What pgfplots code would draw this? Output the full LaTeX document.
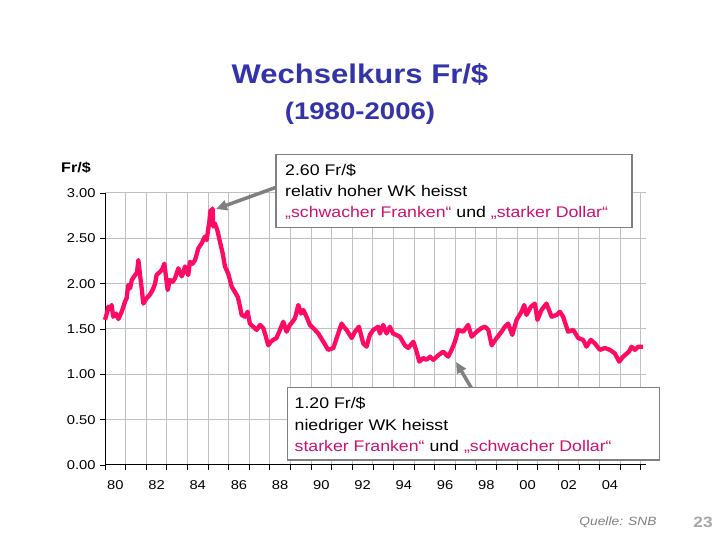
\documentclass[border=0pt]{standalone}
\usepackage{fontspec}
\setmainfont{Liberation Sans}[FakeStretch=1.15]
\usepackage{pgfplots}
\pgfplotsset{compat=1.18}
\usetikzlibrary{arrows.meta}
\definecolor{linecol}{HTML}{FF0A64}
\definecolor{txtmag}{HTML}{CC1170}
\definecolor{titleblue}{HTML}{3434AA}
\definecolor{gridgray}{HTML}{C0C0C0}
\definecolor{boxgray}{HTML}{808080}
\newcommand{\fs}[1]{\fontsize{#1bp}{#1bp}\selectfont}
\begin{document}
\begin{tikzpicture}[x=1bp,y=1bp]
\useasboundingbox[fill=white] (0,0) rectangle (720,540);
\begin{axis}[
  at={(105bp,75bp)}, anchor=south west,
  scale only axis, width=541bp, height=272bp,
  xmin=1980, xmax=2006.25, ymin=0, ymax=3,
  axis x line*=bottom, axis y line*=left,
  axis line style={black, line width=1bp, -},
  xtick={1980,...,2006}, xticklabels={},
  ytick={0,0.5,1,1.5,2,2.5,3},
  yticklabels={0.00,0.50,1.00,1.50,2.00,2.50,3.00},
  tick align=outside, major tick length=5bp,
  tick style={black, line width=0.8bp},
  grid=major, major grid style={gridgray, line width=1bp},
  extra x ticks={1980.5,1982.5,1984.5,1986.5,1988.5,1990.5,1992.5,1994.5,1996.5,1998.5,2000.5,2002.5,2004.5},
  extra x tick labels={80,82,84,86,88,90,92,94,96,98,00,02,04},
  extra x tick style={grid=none, major tick length=0pt, tick label style={yshift=-12bp}},
  tick label style={font=\fs{12.8}},
  yticklabel style={xshift=-1bp},
  clip=false,
]
\addplot[linecol, line width=4.3bp, line join=round] coordinates {
(1980.00,1.60) (1980.10,1.68) (1980.16,1.745) (1980.25,1.72) (1980.32,1.765)
(1980.40,1.635) (1980.53,1.67) (1980.65,1.61) (1980.81,1.69) (1980.97,1.80)
(1981.05,1.84) (1981.13,1.985) (1981.22,1.95) (1981.30,2.04) (1981.46,2.095)
(1981.55,2.12) (1981.62,2.26) (1981.70,2.095) (1981.78,1.95) (1981.86,1.78)
(1982.02,1.84) (1982.15,1.87) (1982.26,1.91) (1982.35,1.95) (1982.43,2.00)
(1982.50,2.095) (1982.67,2.13) (1982.78,2.16) (1982.88,2.22) (1983.04,1.93)
(1983.15,2.04) (1983.28,2.02) (1983.40,2.06) (1983.56,2.17) (1983.72,2.08)
(1983.80,2.12) (1983.88,2.19) (1984.04,2.095) (1984.12,2.24) (1984.25,2.22)
(1984.37,2.26) (1984.53,2.39) (1984.69,2.445) (1984.85,2.52) (1984.93,2.48)
(1985.06,2.68) (1985.12,2.81) (1985.18,2.78) (1985.22,2.83) (1985.25,2.63)
(1985.33,2.665) (1985.45,2.59) (1985.58,2.46) (1985.71,2.335) (1985.82,2.19)
(1985.98,2.11) (1986.15,1.965) (1986.30,1.91) (1986.45,1.85) (1986.55,1.745)
(1986.63,1.655) (1986.79,1.635) (1986.92,1.69) (1987.03,1.56) (1987.19,1.525)
(1987.36,1.49) (1987.52,1.545) (1987.68,1.51) (1987.80,1.42) (1987.92,1.32)
(1988.05,1.36) (1988.16,1.38) (1988.32,1.40) (1988.49,1.49) (1988.65,1.58)
(1988.81,1.47) (1988.97,1.545) (1989.10,1.58) (1989.22,1.62) (1989.38,1.765)
(1989.51,1.67) (1989.62,1.71) (1989.78,1.635) (1989.94,1.545) (1990.19,1.49)
(1990.35,1.45) (1990.59,1.36) (1990.83,1.27) (1991.08,1.29) (1991.24,1.40)
(1991.48,1.56) (1991.60,1.52) (1991.72,1.49) (1991.97,1.40) (1992.13,1.47)
(1992.32,1.525) (1992.53,1.34) (1992.69,1.305) (1992.85,1.435) (1993.02,1.49)
(1993.26,1.525) (1993.34,1.45) (1993.50,1.545) (1993.66,1.45) (1993.82,1.525)
(1993.98,1.45) (1994.31,1.415) (1994.55,1.32) (1994.71,1.29) (1994.96,1.36)
(1995.12,1.25) (1995.25,1.14) (1995.44,1.18) (1995.60,1.16) (1995.77,1.195)
(1995.93,1.16) (1996.17,1.21) (1996.41,1.25) (1996.65,1.195) (1996.82,1.27)
(1996.98,1.36) (1997.14,1.49) (1997.38,1.47) (1997.62,1.545) (1997.79,1.415)
(1998.03,1.47) (1998.27,1.51) (1998.43,1.525) (1998.60,1.49) (1998.76,1.32)
(1999.00,1.40) (1999.24,1.47) (1999.40,1.525) (1999.56,1.56) (1999.76,1.435)
(1999.97,1.60) (2000.21,1.69) (2000.34,1.765) (2000.45,1.655) (2000.66,1.745)
(2000.86,1.78) (2000.98,1.60) (2001.18,1.71) (2001.42,1.78) (2001.67,1.635)
(2001.91,1.655) (2002.07,1.69) (2002.23,1.635) (2002.47,1.47) (2002.72,1.49)
(2002.96,1.40) (2003.20,1.38) (2003.36,1.305) (2003.57,1.38) (2003.77,1.34)
(2004.01,1.27) (2004.25,1.29) (2004.50,1.27) (2004.74,1.23) (2004.95,1.14)
(2005.14,1.195) (2005.42,1.25) (2005.55,1.305) (2005.71,1.27) (2005.87,1.305)
(2006.10,1.305)
};
\end{axis}
% title
\node[anchor=base, text=titleblue, font=\fs{27}\bfseries] at (360,540-84) {Wechselkurs Fr/\$};
\node[anchor=base, text=titleblue, font=\fs{24}\bfseries] at (360,540-120) {(1980-2006)};
% axis unit
\node[anchor=base, font=\fs{14}\bfseries] at (76,540-173) {Fr/\$};
% arrows
\draw[boxgray, line width=3.5bp, -{Triangle[length=11bp,width=10bp]}] (277,540-187) -- (216,540-209);
\draw[boxgray, line width=3.5bp, -{Triangle[length=11bp,width=10bp]}] (472,540-389) -- (456,540-362);
% box 1
\draw[boxgray, line width=1.3bp, fill=white] (276,540-154.5) rectangle (632,540-227.5);
\node[anchor=base west, font=\fs{15.4}, inner sep=0] at (285,540-175.5) {2.60 Fr/\$};
\node[anchor=base west, font=\fs{15.4}, inner sep=0] at (285,540-196.5) {relativ hoher WK heisst};
\node[anchor=base west, font=\fs{15.4}, inner sep=0] at (285,540-218) {\textcolor{txtmag}{„schwacher Franken“} und \textcolor{txtmag}{„starker Dollar“}};
% box 2
\draw[boxgray, line width=1.3bp, fill=white] (287.5,540-387.5) rectangle (659.5,540-460);
\node[anchor=base west, font=\fs{15.4}, inner sep=0] at (294.5,540-408.5) {1.20 Fr/\$};
\node[anchor=base west, font=\fs{15.4}, inner sep=0] at (294.5,540-430.5) {niedriger WK heisst};
\node[anchor=base west, font=\fs{15.4}, inner sep=0] at (294.5,540-451.5) {\textcolor{txtmag}{starker Franken“} und \textcolor{txtmag}{„schwacher Dollar“}};
% footer
\node[anchor=base, font=\fs{12}\itshape, text=boxgray] at (618,540-526) {Quelle: SNB};
\node[anchor=base, font=\fs{15}\bfseries, text=gray!70] at (703,540-528) {23};
\end{tikzpicture}
\end{document}
